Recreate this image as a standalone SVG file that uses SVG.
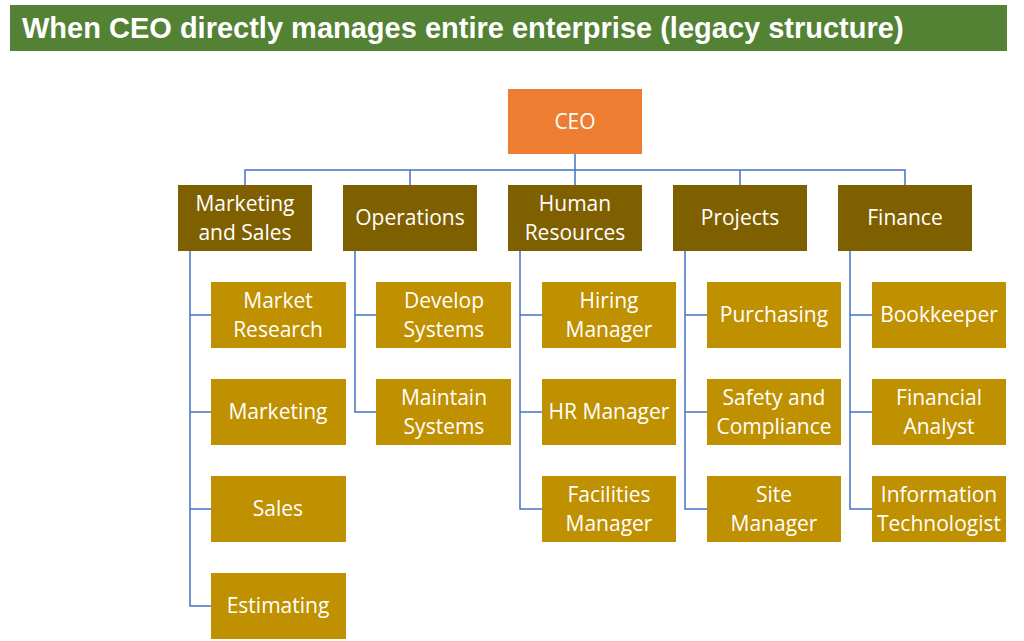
<svg xmlns="http://www.w3.org/2000/svg" width="1024" height="641" viewBox="0 0 1024 641">
<style>
.t{font-family:"Open Sans","Noto Sans",sans-serif;font-size:21px;fill:#fff;text-anchor:middle}
.d{fill:#7F6000}.c{fill:#BF9000}
.l{stroke:#4472C4;stroke-width:1.5;fill:none}
</style>
<rect width="1024" height="641" fill="#fff"/>
<rect x="10" y="5" width="997" height="46" fill="#548235"/>
<text x="22" y="38" style="font-family:'Liberation Sans',sans-serif;font-weight:bold;font-size:29px;fill:#fff">When CEO directly manages entire enterprise (legacy structure)</text>
<g id="connectors" class="l">
<path d="M575 154V170M245 185V170H905V185M410 170V185M575 170V185M740 170V185"/>
<path d="M190 251V606H211M190 315H211M190 412H211M190 509H211"/>
<path d="M355 251V412H376M355 315H376"/>
<path d="M520 251V509H542M520 315H542M520 412H542"/>
<path d="M685 251V509H707M685 315H707M685 412H707"/>
<path d="M850 251V509H872M850 315H872M850 412H872"/>
</g>
<g id="ceo"><rect x="508" y="89" width="134" height="65" fill="#ED7D31"/><text class="t" x="575" y="129">CEO</text></g>
<g id="marketing-sales"><rect class="d" x="178" y="185" width="134" height="66"/><text class="t" x="245" y="211">Marketing</text><text class="t" x="245" y="240">and Sales</text></g>
<g id="operations"><rect class="d" x="343" y="185" width="134" height="66"/><text class="t" x="410" y="225">Operations</text></g>
<g id="hr"><rect class="d" x="508" y="185" width="134" height="66"/><text class="t" x="575" y="211">Human</text><text class="t" x="575" y="240">Resources</text></g>
<g id="projects"><rect class="d" x="673" y="185" width="134" height="66"/><text class="t" x="740" y="225">Projects</text></g>
<g id="finance"><rect class="d" x="838" y="185" width="134" height="66"/><text class="t" x="905" y="225">Finance</text></g>
<g id="market-research"><rect class="c" x="211" y="282" width="135" height="66"/><text class="t" x="278" y="308">Market</text><text class="t" x="278" y="337">Research</text></g>
<g id="marketing"><rect class="c" x="211" y="379" width="135" height="66"/><text class="t" x="278" y="419">Marketing</text></g>
<g id="sales"><rect class="c" x="211" y="476" width="135" height="66"/><text class="t" x="278" y="516">Sales</text></g>
<g id="estimating"><rect class="c" x="211" y="573" width="135" height="66"/><text class="t" x="278" y="613">Estimating</text></g>
<g id="develop-systems"><rect class="c" x="376" y="282" width="135" height="66"/><text class="t" x="444" y="308">Develop</text><text class="t" x="444" y="337">Systems</text></g>
<g id="maintain-systems"><rect class="c" x="376" y="379" width="135" height="66"/><text class="t" x="444" y="405">Maintain</text><text class="t" x="444" y="434">Systems</text></g>
<g id="hiring-manager"><rect class="c" x="542" y="282" width="134" height="66"/><text class="t" x="609" y="308">Hiring</text><text class="t" x="609" y="337">Manager</text></g>
<g id="hr-manager"><rect class="c" x="542" y="379" width="134" height="66"/><text class="t" x="609" y="419">HR Manager</text></g>
<g id="facilities-manager"><rect class="c" x="542" y="476" width="134" height="66"/><text class="t" x="609" y="502">Facilities</text><text class="t" x="609" y="531">Manager</text></g>
<g id="purchasing"><rect class="c" x="707" y="282" width="134" height="66"/><text class="t" x="774" y="322">Purchasing</text></g>
<g id="safety"><rect class="c" x="707" y="379" width="134" height="66"/><text class="t" x="774" y="405">Safety and</text><text class="t" x="774" y="434">Compliance</text></g>
<g id="site-manager"><rect class="c" x="707" y="476" width="134" height="66"/><text class="t" x="774" y="502">Site</text><text class="t" x="774" y="531">Manager</text></g>
<g id="bookkeeper"><rect class="c" x="872" y="282" width="134" height="66"/><text class="t" x="939" y="322">Bookkeeper</text></g>
<g id="financial-analyst"><rect class="c" x="872" y="379" width="134" height="66"/><text class="t" x="939" y="405">Financial</text><text class="t" x="939" y="434">Analyst</text></g>
<g id="it"><rect class="c" x="872" y="476" width="134" height="66"/><text class="t" x="939" y="502">Information</text><text class="t" x="939" y="531">Technologist</text></g>
</svg>
